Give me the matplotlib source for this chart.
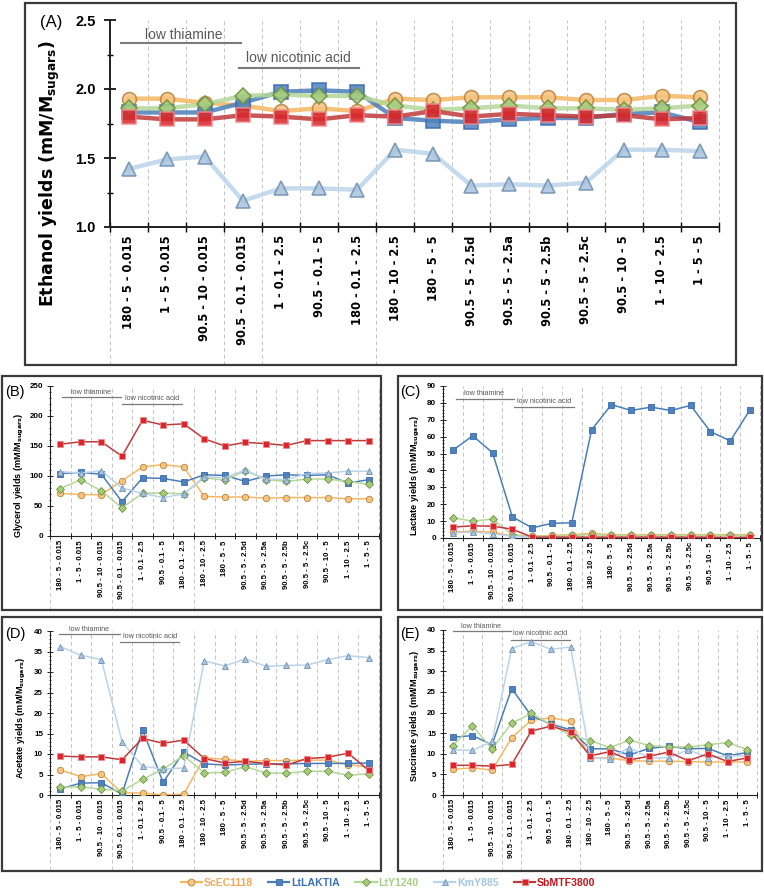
import matplotlib.pyplot as plt
from matplotlib.lines import Line2D
from matplotlib.patches import Rectangle
from matplotlib.ticker import MultipleLocator

categories = ["180 - 5 - 0.015", "1 - 5 - 0.015", "90.5 - 10 - 0.015", "90.5 - 0.1 - 0.015",
              "1 - 0.1 - 2.5", "90.5 - 0.1 - 5", "180 - 0.1 - 2.5", "180 - 10 - 2.5",
              "180 - 5 - 5", "90.5 - 5 - 2.5d", "90.5 - 5 - 2.5a", "90.5 - 5 - 2.5b",
              "90.5 - 5 - 2.5c", "90.5 - 10 - 5", "1 - 10 - 2.5", "1 - 5 - 5"]
strains = ["ScEC1118", "LtLAKTIA", "LtY1240", "KmY885", "SbMTF3800"]

# one list per strain, in the order of `strains`
ethanol = [
    [1.93, 1.93, 1.90, 1.88, 1.84, 1.86, 1.84, 1.93, 1.92, 1.94, 1.94, 1.94, 1.92, 1.92, 1.95, 1.94],
    [1.83, 1.83, 1.83, 1.90, 1.98, 1.99, 1.98, 1.79, 1.77, 1.76, 1.78, 1.79, 1.79, 1.82, 1.83, 1.76],
    [1.86, 1.86, 1.89, 1.95, 1.96, 1.95, 1.95, 1.88, 1.85, 1.86, 1.88, 1.86, 1.86, 1.85, 1.86, 1.88],
    [1.42, 1.49, 1.51, 1.19, 1.28, 1.28, 1.27, 1.56, 1.53, 1.30, 1.31, 1.30, 1.32, 1.56, 1.56, 1.55],
    [1.80, 1.78, 1.78, 1.81, 1.80, 1.78, 1.81, 1.80, 1.84, 1.80, 1.82, 1.81, 1.80, 1.81, 1.78, 1.79],
]
glycerol = [
    [71, 69, 69, 92, 115, 119, 115, 66, 65, 65, 63, 64, 64, 64, 62, 62],
    [104, 106, 103, 57, 97, 96, 90, 102, 101, 91, 100, 102, 101, 102, 88, 94],
    [79, 94, 75, 47, 71, 72, 70, 97, 93, 109, 94, 91, 95, 95, 91, 86],
    [107, 105, 109, 80, 71, 64, 70, 99, 97, 110, 95, 94, 104, 105, 108, 108],
    [153, 157, 157, 133, 193, 185, 187, 162, 150, 156, 154, 151, 159, 159, 159, 159],
]
lactate = [
    [3.5, 4.0, 3.5, 1.2, 1.2, 1.5, 2.0, 2.7, 2.0, 2.0, 2.0, 2.0, 2.0, 2.0, 2.0, 2.0],
    [52, 60.5, 50.5, 12.5, 6, 8.7, 9, 64, 79, 75.5, 77.5, 75.5, 78.5, 63, 57.5, 76],
    [12, 10, 11.2, 2.0, 1.0, 1.0, 1.5, 2.0, 1.5, 1.5, 1.5, 1.5, 1.5, 1.5, 1.5, 1.5],
    [3.0, 3.5, 2.5, 1.0, 0.3, 0.3, 0.3, 0.3, 0.3, 0.3, 0.3, 0.3, 0.3, 0.3, 0.3, 0.3],
    [6.5, 7.2, 7.0, 5.2, 0.5, 0.5, 0.5, 0.5, 0.5, 0.5, 0.5, 0.5, 0.5, 0.5, 0.2, 0.5],
]
acetate = [
    [6.1, 4.5, 5.2, 0.5, 0.5, 0.0, 0.2, 9.1, 8.7, 8.2, 8.4, 8.4, 8.5, 8.5, 7.4, 6.8],
    [1.5, 2.9, 3.0, 0.2, 15.9, 3.1, 10.5, 7.6, 7.3, 7.5, 7.6, 7.6, 7.7, 7.7, 7.7, 7.8],
    [1.9, 2.0, 1.4, 1.0, 3.8, 6.3, 9.6, 5.4, 5.5, 6.9, 5.4, 5.3, 5.8, 5.8, 4.8, 5.2],
    [36.2, 34.1, 33.0, 13.0, 7.0, 6.3, 6.6, 32.7, 31.5, 33.2, 31.4, 31.6, 31.7, 33.0, 34.0, 33.5],
    [9.5, 9.3, 9.3, 8.6, 13.8, 12.6, 13.4, 8.9, 7.8, 8.2, 7.7, 7.3, 8.9, 9.2, 10.2, 6.0],
]
succinate = [
    [6.2, 6.6, 6.0, 13.9, 18.1, 18.7, 17.9, 9.0, 9.0, 8.3, 8.2, 8.2, 8.1, 8.0, 8.0, 8.0],
    [14.0, 14.4, 12.2, 25.8, 19.2, 17.2, 15.8, 11.2, 11.2, 9.7, 11.3, 11.8, 11.2, 11.3, 9.5, 10.3],
    [12.0, 16.8, 11.2, 17.4, 19.8, 17.0, 14.5, 13.2, 11.5, 13.3, 12.0, 11.7, 11.6, 12.2, 12.7, 11.0],
    [11.0, 10.8, 13.0, 35.5, 37.2, 35.3, 35.9, 9.0, 8.8, 11.5, 9.0, 9.0, 11.0, 9.0, 9.5, 9.5],
    [7.2, 7.2, 7.0, 7.4, 15.5, 16.7, 15.3, 9.5, 10.5, 8.5, 9.4, 10.4, 8.3, 10.0, 8.1, 9.0],
]

markers = ["o", "s", "D", "^", "s"]
line_colors = ["#f5b862", "#4a7ebb", "#b5d79a", "#bcd4ea", "#c0393b"]
face_colors = ["#f7c47f", "#4f81bd", "#a5cc7c", "#a9c4dd", "#d9262b"]
edge_colors = ["#b9833f", "#3b6cae", "#6f9140", "#6f90b0", "#ee8a8d"]
text_colors = ["#f0a858", "#3a70b8", "#a6cf86", "#a4c6e6", "#c0161c"]

W, H = 764, 892
fig = plt.figure(figsize=(W / 100, H / 100), dpi=100)
plt.rcParams["font.family"] = "Liberation Sans"


def box(l, t, r, b):
    return [l / W, 1 - b / H, (r - l) / W, (b - t) / H]


def frame(l, t, r, b):
    fig.patches.append(Rectangle((l / W, 1 - b / H), (r - l) / W, (b - t) / H,
                                 transform=fig.transFigure, fill=False,
                                 edgecolor="#3a3a3a", linewidth=1.6))


def panel(ax, data, ymax, major, minor, big, drop, ann):
    x = range(len(categories))
    lw, ms, mew = (3.2, 10, 1.2) if big else (1.1, 4.6, 0.6)
    alpha = 0.85 if big else 1.0
    for i in range(len(strains)):
        ax.plot(x, data[i], color=line_colors[i], lw=lw, alpha=alpha, zorder=3 + i,
                marker=markers[i], ms=ms * (0.85 if markers[i] == "D" else 1),
                mfc=face_colors[i], mec=edge_colors[i], mew=mew)
    for b in range(len(categories) + 1):
        xb = b - 0.5
        long_line = b in (0, 3, 4, 7)
        ax.axvline(xb, ymin=-drop if long_line else 0, ymax=1, color="#c4c4c4",
                   lw=0.7, ls=(0, (4, 3)), clip_on=False, zorder=1)
    ax.set_xlim(-0.5, len(categories) - 0.5)
    ax.set_ylim(0 if not big else 1.0, ymax)
    ax.yaxis.set_major_locator(MultipleLocator(major))
    ax.yaxis.set_minor_locator(MultipleLocator(minor))
    ax.set_xticks(range(len(categories)))
    ax.set_xticks([b - 0.5 for b in range(len(categories) + 1)], minor=True)
    ax.set_xticklabels(categories, rotation=90, fontweight="bold",
                       family="DejaVu Sans" if big else "Liberation Sans",
                       fontsize=8.3 if big else 5.6)
    ax.tick_params(axis="x", which="major", length=0, pad=6 if big else 3)
    ax.tick_params(axis="x", which="minor", direction="inout", length=7 if big else 4,
                   width=1.0 if big else 0.6)
    ax.tick_params(axis="y", which="major", direction="inout", length=8 if big else 4,
                   width=1.2 if big else 0.6, labelsize=10.5 if big else 5.8,
                   pad=6 if big else 3)
    ax.tick_params(axis="y", which="minor", direction="inout", length=4 if big else 2,
                   width=1.0 if big else 0.5)
    for lab in ax.get_yticklabels():
        lab.set_fontweight("bold")
    if big:
        ax.set_yticklabels([f"{v:.1f}" for v in ax.get_yticks()], fontweight="bold")
    for s in ("top", "right"):
        ax.spines[s].set_visible(False)
    for s in ("left", "bottom"):
        ax.spines[s].set_linewidth(1.4 if big else 0.8)
        ax.spines[s].set_color("#202020")
    ax.patch.set_alpha(0)
    # nutrient annotations
    (t1x, t1y, l1y, l1a, l1b), (t2x, t2y, l2y, l2a, l2b) = ann
    fs = 10 if big else 5.2
    tr = ax.get_xaxis_transform()
    ax.text(t1x, t1y, "low thiamine", transform=tr, ha="center", va="bottom",
            fontsize=fs, color="#5a5a5a")
    ax.plot([l1a, l1b], [l1y, l1y], transform=tr, color="#7a7a7a", lw=1.5 if big else 0.9,
            clip_on=False)
    ax.text(t2x, t2y, "low nicotinic acid", transform=tr, ha="center", va="bottom",
            fontsize=fs, color="#5a5a5a")
    ax.plot([l2a, l2b], [l2y, l2y], transform=tr, color="#7a7a7a", lw=1.5 if big else 0.9,
            clip_on=False)


sub = r" (mM/M$_{\mathbf{sugars}}$)"

# (A) ethanol
frame(25, 3, 736, 365)
axA = fig.add_axes(box(109.5, 20, 719, 227))
panel(axA, ethanol, 2.5, 0.5, 0.25, True, 0.665,
      ((1.45, 0.895, 0.887, -0.2, 2.95), (4.45, 0.785, 0.77, 2.9, 6.05)))
fig.text(40 / W, 1 - 22 / H, "(A)", fontsize=12, va="center", ha="left")
fig.text(50 / W, 1 - 174 / H, "Ethanol yields" + sub, rotation=90, ha="center",
         va="center", fontsize=12.5, fontweight="bold", family="DejaVu Sans")

# (B) glycerol
frame(2, 376, 381, 610)
axB = fig.add_axes(box(50, 386, 379, 536))
panel(axB, glycerol, 250, 50, 10, False, 0.49,
      ((1.5, 0.935, 0.927, 0.1, 2.95), (4.45, 0.89, 0.88, 3.0, 5.9)))
fig.text(5 / W, 1 - 392 / H, "(B)", fontsize=10.5, va="center", ha="left")
fig.text(19 / W, 1 - 475 / H, "Glycerol yields" + sub, rotation=90, ha="center",
         va="center", fontsize=6.6, fontweight="bold")

# (C) lactate
frame(398, 376, 762, 610)
axC = fig.add_axes(box(443, 386, 760, 538))
panel(axC, lactate, 90, 10, 2, False, 0.47,
      ((1.55, 0.925, 0.912, 0.15, 3.1), (4.6, 0.875, 0.862, 3.1, 6.1)))
fig.text(400 / W, 1 - 392 / H, "(C)", fontsize=10.5, va="center", ha="left")
fig.text(415 / W, 1 - 476 / H, "Lactate yields" + sub, rotation=90, ha="center",
         va="center", fontsize=6.6, fontweight="bold")

# (D) acetate
frame(2, 617, 381, 871)
axD = fig.add_axes(box(50, 631, 379, 795))
panel(axD, acetate, 40, 5, 1, False, 0.46,
      ((1.4, 0.99, 0.982, -0.05, 2.9), (4.35, 0.943, 0.933, 2.9, 5.75)))
fig.text(5 / W, 1 - 634 / H, "(D)", fontsize=10.5, va="center", ha="left")
fig.text(21 / W, 1 - 718 / H, "Acetate yields" + sub, rotation=90, ha="center",
         va="center", fontsize=6.6, fontweight="bold")

# (E) succinate
frame(398, 617, 762, 871)
axE = fig.add_axes(box(443, 630, 757, 795))
panel(axE, succinate, 40, 5, 1, False, 0.46,
      ((1.45, 1.0, 0.994, 0.0, 2.95), (4.45, 0.955, 0.94, 2.95, 5.95)))
fig.text(400 / W, 1 - 634 / H, "(E)", fontsize=10.5, va="center", ha="left")
fig.text(415 / W, 1 - 716 / H, "Succinate yields" + sub, rotation=90, ha="center",
         va="center", fontsize=6.6, fontweight="bold")

handles = [Line2D([], [], color=line_colors[i], lw=1.6, marker=markers[i],
                  ms=5 if markers[i] != "D" else 4.2, mfc=face_colors[i],
                  mec=edge_colors[i], mew=0.6) for i in range(len(strains))]
leg = fig.legend(handles, strains, loc="center", bbox_to_anchor=(388 / W, 1 - 883 / H),
                 ncol=5, frameon=False, handlelength=2.0, handletextpad=0.15,
                 columnspacing=1.5, prop={"size": 7.6, "weight": "bold"})
for txt, c in zip(leg.get_texts(), text_colors):
    txt.set_color(c)

fig.savefig("out.png", dpi=100)
